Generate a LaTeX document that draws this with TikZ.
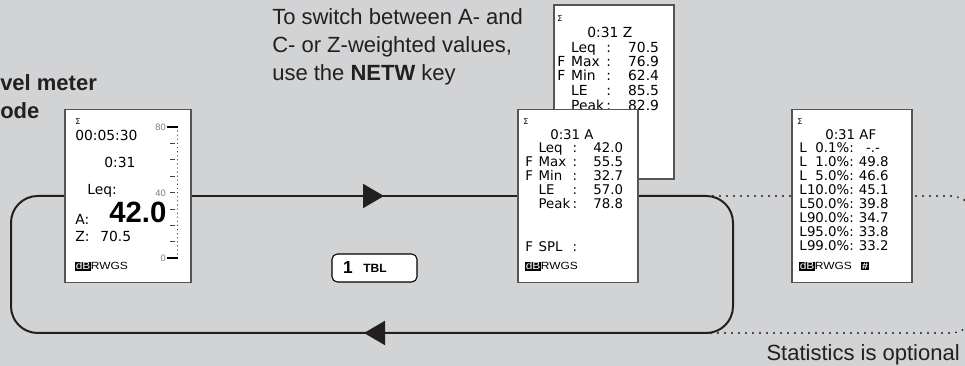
\documentclass[tikz,border=0pt]{standalone}
\usepackage{fontspec}
\setmainfont{Liberation Sans}
\newfontfamily\lcdfont{DejaVu Sans}
\newfontfamily\statusfont[FakeStretch=1.15]{Liberation Sans}
\usetikzlibrary{arrows.meta, backgrounds}
\usepackage{xcolor}
\definecolor{panelgray}{RGB}{209, 211, 212}
\definecolor{inkdark}{RGB}{35, 31, 32}
\definecolor{lcdframe}{RGB}{85, 85, 85}
\definecolor{scalegray}{RGB}{125, 125, 125}

% 测量值行：前缀、名称、数值
\newcommand{\lcdrow}[3]{\makebox[1em][l]{#1}\makebox[2.55em][l]{#2}:\makebox[3.45em][r]{#3}}
% 统计行：百分位、数值
\newcommand{\statrow}[2]{L\makebox[2.25em][r]{#1}\%:\makebox[2.6em][r]{#2}}
% 状态栏
\newcommand{\dbstatus}{{\setlength{\fboxsep}{0.4pt}\colorbox{black}{\textcolor{white}{dB}}}RWGS}

\tikzset{
    screen/.style={draw=lcdframe, fill=white, line width=0.8pt, inner sep=0pt, minimum width=90pt, minimum height=129.75pt},
    lcd/.style={anchor=base west, inner sep=0pt, font=\lcdfont\fontsize{10}{10}\selectfont},
    lcdlarge/.style={lcd, font=\lcdfont\fontsize{10.4}{10.4}\selectfont},
    sigma/.style={anchor=base west, inner sep=0pt, font=\lcdfont\fontsize{6}{6}\selectfont},
    status/.style={anchor=base west, inner sep=0pt, font=\statusfont\fontsize{7.8}{7.8}\selectfont},
    scalelabel/.style={anchor=east, inner sep=0pt, text=scalegray, font=\fontsize{7}{7}\selectfont},
    loopline/.style={inkdark, line width=1.5pt},
    loopdots/.style={inkdark, line width=1.6pt, line cap=round, dash pattern=on 0pt off 5.25pt},
    looparrow/.style={-{Triangle[length=15.75pt, width=18pt]}},
    keybox/.style={draw=black, fill=white, line width=0.8pt, rounded corners=4pt, minimum height=21pt, inner xsep=8.25pt, text width=47.25pt, align=left},
    note/.style={inner sep=0pt, text=inkdark, font=\fontsize{16.5}{21}\selectfont}
}

\begin{document}
\begin{tikzpicture}[x=0.75pt, y=-0.75pt]
    \useasboundingbox (0,0) rectangle (965,366);

    % 声级计屏幕
    \node[screen, minimum width=94.5pt] (slmscreen) at (128,196) {};
    \node[sigma] at (75,125) {Σ};
    \node[lcdlarge] at (75,141) {00:05:30};
    \node[lcdlarge] at (104,168) {0:31};
    \node[lcdlarge] at (87,195) {Leq:};
    \node[lcdlarge] at (75,225) {A:};
    \node[anchor=base west, inner sep=0pt, font=\fontsize{22}{22}\selectfont\bfseries] (leqvalue) at (109,223) {42.0};
    \node[lcdlarge] at (75,242) {Z:};
    \node[lcdlarge] at (100,242) {70.5};
    \node[status] at (75,270) {\dbstatus};

    % 刻度
    \node[scalelabel] at (166,127) {80};
    \node[scalelabel] at (166,193) {40};
    \node[scalelabel] at (166,258) {0};
    \draw[line width=1.1pt] (167,127) -- (178,127);
    \draw[line width=1.1pt] (167,258) -- (178,258);
    \foreach \k in {1,...,7} \draw[line width=0.6pt, black!75] (170,127+16.4*\k) -- (175,127+16.4*\k);
    \foreach \j in {1,...,31} \fill[black!70] (177.5,127+4.1*\j) circle (0.5pt);

    % Z 加权屏幕
    \node[screen, minimum height=130.5pt] (tblZ) at (614,92) {};
    \node[sigma] at (557,22) {Σ};
    \node[lcdlarge] at (587,38) {0:31~Z};
    \node[lcdlarge] at (557,53) {\lcdrow{}{Leq}{70.5}};
    \node[lcdlarge] at (557,67) {\lcdrow{F}{Max}{76.9}};
    \node[lcdlarge] at (557,81) {\lcdrow{F}{Min}{62.4}};
    \node[lcdlarge] at (557,96) {\lcdrow{}{LE}{85.5}};
    \node[lcdlarge] at (557,111) {\lcdrow{}{Peak}{82.9}};

    % A 加权屏幕
    \node[screen] (tblA) at (578,196) {};
    \node[sigma] at (523,125) {Σ};
    \node[lcd] at (550,140) {0:31~A};
    \node[lcd] at (525,153) {\lcdrow{}{Leq}{42.0}};
    \node[lcd] at (525,167) {\lcdrow{F}{Max}{55.5}};
    \node[lcd] at (525,181) {\lcdrow{F}{Min}{32.7}};
    \node[lcd] at (525,195) {\lcdrow{}{LE}{57.0}};
    \node[lcd] at (525,209) {\lcdrow{}{Peak}{78.8}};
    \node[lcd] at (525,252) {\lcdrow{F}{SPL}{}};
    \node[status] at (525,270) {\dbstatus};

    % 统计屏幕
    \node[screen] (statscreen) at (852,196) {};
    \node[sigma] at (797,125) {Σ};
    \node[lcd] at (825,140) {0:31~AF};
    \node[lcd] at (799,153) {\statrow{0.1}{-.-\phantom{0}}};
    \node[lcd] at (799,167) {\statrow{1.0}{49.8}};
    \node[lcd] at (799,181) {\statrow{5.0}{46.6}};
    \node[lcd] at (799,195) {\statrow{10.0}{45.1}};
    \node[lcd] at (799,209) {\statrow{50.0}{39.8}};
    \node[lcd] at (799,223) {\statrow{90.0}{34.7}};
    \node[lcd] at (799,237) {\statrow{95.0}{33.8}};
    \node[lcd] at (799,251) {\statrow{99.0}{33.2}};
    \node[status] at (799,270) {\dbstatus};
    \node[fill=black, text=white, inner sep=0.6pt, font=\statusfont\fontsize{7}{7}\selectfont\bfseries] (histicon) at (865,266) {\#};

    % 按键
    \node[keybox] (tblkey) at (374.5,268) {{\fontsize{13}{13}\selectfont\bfseries 1}\hspace{8pt}\raisebox{1.2pt}{\fontsize{9}{9}\selectfont\bfseries TBL}};

    % 说明文字
    \node[note, anchor=north west, align=left] (netwnote) at (272,8) {To switch between A- and\\C- or Z-weighted values,\\use the \textbf{NETW} key};
    \node[note, anchor=base east] (optnote) at (960,361) {Statistics is optional};
    \node[note, anchor=north west, align=left, font=\fontsize{16.5}{21}\selectfont\bfseries] (modetitle) at (0,74) {vel meter\\ode};

    % 环路
    \begin{scope}[on background layer]
        \fill[panelgray] (0,0) rectangle (965,366);
        \coordinate (toparrow) at (384,196);
        \coordinate (botarrow) at (364,333);
        \draw[loopdots, rounded corners=20pt] (706,196) -- (977,196) -- (977,333) -- (706,333);
        \draw[loopline] (slmscreen.east) -- (tblA.west);
        \draw[loopline, looparrow] (slmscreen.east) -- (toparrow);
        \draw[loopline, rounded corners=20pt] (tblA.east) -- (733,196) -- (733,333) -- (11,333) -- (11,196) -- (slmscreen.west);
        \draw[loopline, looparrow] (420,333) -- (botarrow);
    \end{scope}
\end{tikzpicture}
\end{document}
